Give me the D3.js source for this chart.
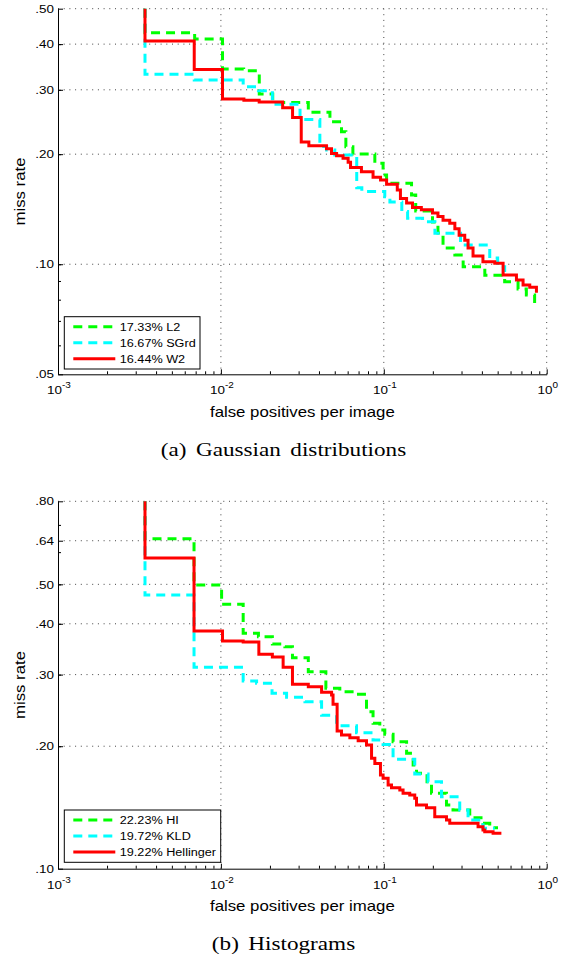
<!DOCTYPE html>
<html><head><meta charset="utf-8">
<script src="https://cdn.jsdelivr.net/npm/d3@7"></script>
<style>
body{margin:0;background:#fff}
svg{display:block}
text{font-family:"Liberation Sans",Arial,Helvetica,sans-serif;fill:#000}
</style>
</head><body>
<svg id="c" width="569" height="958"></svg>
<script>
// ---------- data ----------
const xTickVals = [0.001, 0.01, 0.1, 1];
const xTickExp = ["-3", "-2", "-1", "0"];
const xLabel = "false positives per image";
const yLabel = "miss rate";

const gaussYTicks = [0.05, 0.10, 0.20, 0.30, 0.40, 0.50];
const gaussYLabels = [".05", ".10", ".20", ".30", ".40", ".50"];
const histYTicks = [0.10, 0.20, 0.30, 0.40, 0.50, 0.64, 0.80];
const histYLabels = [".10", ".20", ".30", ".40", ".50", ".64", ".80"];

const gaussNames = ["17.33% L2", "16.67% SGrd", "16.44% W2"];
const histNames = ["22.23% HI", "19.72% KLD", "19.22% Hellinger"];
const captions = ["(a) Gaussian distributions", "(b) Histograms"];

// (a) Gaussian distributions
const l2Fppi = [0.00342,0.00342,0.0069,0.01023,0.0138,0.0172,0.0208,0.0344,0.0467,0.055,0.0585,0.0646,0.0881,0.099,0.104,0.148,0.157,0.199,0.215,0.231,0.273,0.307,0.417,0.552,0.667,0.750,0.843];
const l2Miss = [0.50,0.430,0.413,0.342,0.338,0.292,0.277,0.2605,0.2455,0.2305,0.2097,0.2002,0.1888,0.1754,0.1665,0.1547,0.1398,0.1305,0.1218,0.1108,0.106,0.0985,0.0933,0.0896,0.0855,0.0824,0.0769];

const sgrdFppi = [0.00342,0.00342,0.00686,0.0137,0.0170,0.0207,0.0306,0.0405,0.0446,0.050,0.0682,0.0733,0.1014,0.109,0.129,0.140,0.173,0.206,0.296,0.447,0.500,0.552];
const sgrdMiss = [0.50,0.331,0.319,0.306,0.298,0.274,0.249,0.210,0.2053,0.199,0.162,0.158,0.153,0.148,0.1393,0.1335,0.1307,0.1216,0.1129,0.104,0.0984,0.0953];

const w2Fppi = [0.00342,0.00342,0.00686,0.01023,0.01384,0.01718,0.02394,0.02754,0.03113,0.03467,0.04446,0.04775,0.0513,0.0562,0.0604,0.0625,0.0729,0.0859,0.0955,0.104,0.121,0.1265,0.138,0.150,0.170,0.199,0.215,0.231,0.254,0.273,0.290,0.314,0.329,0.353,0.406,0.480,0.540,0.652,0.716,0.787,0.865];
const w2Miss = [0.50,0.408,0.341,0.283,0.281,0.278,0.268,0.252,0.216,0.211,0.207,0.201,0.198,0.195,0.190,0.184,0.179,0.173,0.170,0.1656,0.1596,0.1514,0.147,0.143,0.141,0.138,0.135,0.132,0.1295,0.125,0.120,0.1164,0.1107,0.1054,0.1016,0.1006,0.0935,0.0906,0.0877,0.0865,0.0836];

// (b) Histograms
const hiFppi = [0.00342,0.00342,0.00684,0.0101,0.0137,0.017,0.0207,0.0247,0.0275,0.0344,0.0441,0.0537,0.0664,0.0783,0.0859,0.0945,0.1014,0.114,0.138,0.1514,0.1587,0.1843,0.1962,0.2425,0.266,0.337,0.4064,0.447,0.5026];
const hiMiss = [0.80,0.647,0.498,0.447,0.379,0.3717,0.3566,0.3512,0.330,0.305,0.2776,0.2723,0.2683,0.243,0.2277,0.2193,0.2139,0.2051,0.1921,0.1799,0.1716,0.1622,0.1532,0.1434,0.1394,0.1334,0.1293,0.1261,0.1261];

const kldFppi = [0.00342,0.00342,0.00684,0.0137,0.01656,0.0206,0.0253,0.0328,0.0415,0.0513,0.068,0.0859,0.099,0.114,0.1549,0.187,0.226,0.2925,0.329,0.4064,0.480];
const kldMiss = [0.80,0.4706,0.3126,0.2892,0.2855,0.2698,0.2638,0.2573,0.2385,0.2246,0.2158,0.2071,0.2021,0.1858,0.1709,0.1636,0.1503,0.1394,0.1317,0.1257,0.1257];

const hellFppi = [0.00342,0.00342,0.00684,0.01023,0.0137,0.0171,0.0207,0.0241,0.0275,0.0344,0.0415,0.0478,0.0488,0.0517,0.0550,0.0619,0.0696,0.0783,0.0841,0.0881,0.0954,0.0990,0.1063,0.1115,0.1254,0.1313,0.1443,0.1549,0.1587,0.1828,0.2055,0.2425,0.2540,0.379,0.4064,0.4165,0.4686,0.527];
const hellMiss = [0.80,0.580,0.384,0.363,0.361,0.3366,0.3313,0.3126,0.284,0.280,0.2714,0.2673,0.2535,0.218,0.2131,0.2098,0.2063,0.2014,0.1868,0.1815,0.170,0.1668,0.1606,0.1582,0.1561,0.1532,0.1518,0.1489,0.1434,0.1412,0.1342,0.1317,0.1293,0.1268,0.1245,0.1233,0.1222,0.1222];

// ---------- styles ----------
const colors = ["#00ff00", "#00ffff", "#ff0000"];
const dashes = ["9,6", "9,6", null];
const LW = 3;

const svg = d3.select("#c");
const X0 = 58, X1 = 546.7;
const SX = 1.17;

const panels = [
  {top: 8.7, bottom: 374.3, domain: [0.05, 0.5], ticks: gaussYTicks, labels: gaussYLabels,
   names: gaussNames, series: [[l2Fppi, l2Miss], [sgrdFppi, sgrdMiss], [w2Fppi, w2Miss]],
   legend: {x: 64.3, y: 316.7, w: 135.7, h: 52.3}, caption: captions[0]},
  {top: 501.3, bottom: 868.7, domain: [0.1, 0.8], ticks: histYTicks, labels: histYLabels,
   names: histNames, series: [[hiFppi, hiMiss], [kldFppi, kldMiss], [hellFppi, hellMiss]],
   legend: {x: 64.3, y: 810, w: 156.4, h: 52.3}, caption: captions[1]}
];

panels.forEach((p, pi) => {
  const g = svg.append("g");
  const x = d3.scaleLog().domain([1e-3, 1]).range([X0, X1]);
  const y = d3.scaleLog().domain(p.domain).range([p.bottom, p.top]);

  // grid
  g.append("g").selectAll("line").data(p.ticks.filter(v => v > p.domain[0])).join("line")
    .attr("x1", X0).attr("x2", X1).attr("y1", d => y(d)).attr("y2", d => y(d))
    .attr("stroke", "#444").attr("stroke-width", 1).attr("stroke-dasharray", "1,4.7");
  g.append("g").selectAll("line").data(xTickVals.slice(1)).join("line")
    .attr("y1", p.bottom).attr("y2", p.top).attr("x1", d => x(d)).attr("x2", d => x(d))
    .attr("stroke", "#444").attr("stroke-width", 1).attr("stroke-dasharray", "1,4.7");

  // minor ticks
  const xMinor = [];
  [-3, -2, -1].forEach(e => { for (let k = 2; k <= 9; k++) xMinor.push(k * Math.pow(10, e)); });
  const yMinor = [];
  [-2, -1].forEach(e => { for (let k = 1; k <= 9; k++) { const v = k * Math.pow(10, e); if (v > p.domain[0] && v < p.domain[1]) yMinor.push(v); } });
  g.append("g").attr("transform", `translate(0,${p.bottom})`)
    .call(d3.axisBottom(x).tickValues(xMinor).tickSizeInner(-3).tickSizeOuter(0).tickFormat(""))
    .call(s => s.select(".domain").remove());
  g.append("g").attr("transform", `translate(${X0},0)`)
    .call(d3.axisLeft(y).tickValues(yMinor).tickSizeInner(-3).tickSizeOuter(0).tickFormat(""))
    .call(s => s.select(".domain").remove());

  // curves
  const clipId = "clip" + pi;
  g.append("clipPath").attr("id", clipId).append("rect")
    .attr("x", X0).attr("y", p.top - 2).attr("width", X1 - X0 + 4).attr("height", p.bottom - p.top + 2);
  const line = d3.line().x(d => x(d[0])).y(d => y(d[1])).curve(d3.curveStepAfter);
  p.series.forEach((s, si) => {
    const pts = s[0].map((v, i) => [v, s[1][i]]);
    g.append("path").datum(pts).attr("d", line).attr("clip-path", `url(#${clipId})`)
      .attr("fill", "none").attr("stroke", colors[si]).attr("stroke-width", LW)
      .attr("stroke-linejoin", "miter").attr("stroke-dasharray", dashes[si]);
  });

  // axes
  const ay = g.append("g").attr("transform", `translate(${X0},0)`)
    .call(d3.axisLeft(y).tickValues(p.ticks).tickFormat((d, i) => p.labels[i])
      .tickSizeInner(-5).tickSizeOuter(0).tickPadding(4));
  ay.selectAll("text").attr("font-size", 11.5).attr("font-family", '"Liberation Sans",Arial,sans-serif')
    .attr("transform", `scale(${SX},1)`).attr("x", -4 / SX);
  const ax = g.append("g").attr("transform", `translate(0,${p.bottom})`)
    .call(d3.axisBottom(x).tickValues(xTickVals).tickSizeInner(-5).tickSizeOuter(0).tickFormat(""));
  [ay, ax].forEach(a => { a.select(".domain").attr("stroke", "#000").attr("stroke-width", 1); a.selectAll(".tick line").attr("stroke", "#000"); });

  // x tick labels with superscript
  xTickVals.forEach((v, i) => {
    const t = g.append("text").attr("transform", `translate(${x(v) + 1},${p.bottom + 20}) scale(${SX},1)`)
      .attr("text-anchor", "middle").attr("font-size", 11.5);
    t.append("tspan").text("10");
    t.append("tspan").attr("dy", -6).attr("font-size", 8.5).text(xTickExp[i]);
  });

  // axis labels
  g.append("text").attr("transform", `translate(${(X0 + X1) / 2},${p.bottom + 42.4}) scale(1.2,1)`)
    .attr("text-anchor", "middle").attr("font-size", 14).text(xLabel);
  g.append("text").attr("transform", `translate(25,${(p.top + p.bottom) / 2}) rotate(-90) scale(1.2,1)`)
    .attr("text-anchor", "middle").attr("font-size", 14).text(yLabel);

  // legend
  const L = p.legend;
  const lg = g.append("g");
  lg.append("rect").attr("x", L.x).attr("y", L.y).attr("width", L.w).attr("height", L.h)
    .attr("fill", "#fff").attr("stroke", "#000").attr("stroke-width", 1);
  p.names.forEach((n, i) => {
    const yy = L.y + 10 + i * 16;
    lg.append("line").attr("x1", L.x + 9).attr("x2", L.x + 51).attr("y1", yy).attr("y2", yy)
      .attr("stroke", colors[i]).attr("stroke-width", LW).attr("stroke-dasharray", dashes[i]);
    lg.append("text").attr("transform", `translate(${L.x + 55.5},${yy + 4}) scale(1.12,1)`)
      .attr("font-size", 11.3).text(n);
  });

  // caption
  g.append("text").attr("transform", `translate(283.5,${p.bottom + 81.7}) scale(1.22,1)`)
    .attr("text-anchor", "middle").attr("font-size", 19).attr("word-spacing", 3)
    .style("font-family", '"Liberation Serif","Times New Roman",serif').text(p.caption);
});
</script>
</body></html>
